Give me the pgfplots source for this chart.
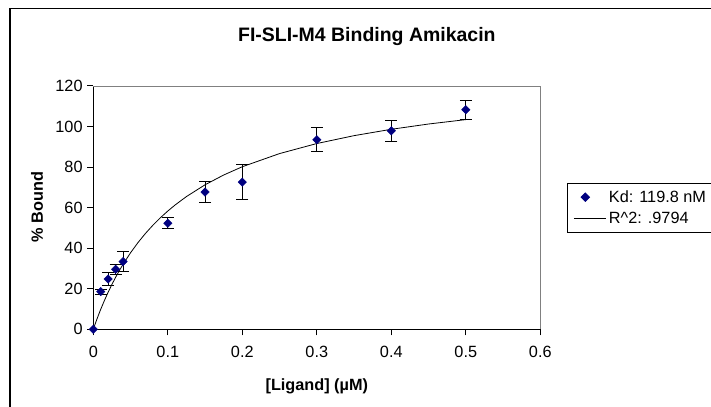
\documentclass[border=0pt]{standalone}
\usepackage{fontspec}
\setmainfont{Liberation Sans}
\usepackage{pgfplots}
\pgfplotsset{compat=1.18}
\usepackage{pgfplotstable}

\definecolor{navymark}{RGB}{0,0,128}
\definecolor{plotgrey}{RGB}{128,128,128}

% measured: mean and error of each point
\pgfplotstableread{
x     y      err
0     0      0
0.01  18.6   1.2
0.02  24.8   3.0
0.03  29.6   2.5
0.04  33.4   4.9
0.10  52.3   2.8
0.15  67.7   5.3
0.20  72.6   8.8
0.30  93.5   5.8
0.40  97.9   5.2
0.50  108.3  4.6
}\bounddata

% one-site binding fit, Kd = 0.1198 uM, sampled
\pgfplotstableread{
x       y
0       0
0.0025  2.62
0.005   5.14
0.0075  7.55
0.01    9.88
0.015   14.27
0.02    18.34
0.025   22.13
0.03    25.67
0.035   28.99
0.04    32.09
0.05    37.75
0.06    42.78
0.07    47.28
0.08    51.33
0.09    55.00
0.10    58.33
0.11    61.37
0.125   65.46
0.15    71.28
0.175   76.10
0.20    80.18
0.25    86.67
0.30    91.62
0.35    95.51
0.40    98.65
0.45    101.25
0.50    103.42
}\fitdata

\newcommand{\lblfont}{\fontsize{12.2}{14}\selectfont}

\begin{document}
\begin{tikzpicture}
\begin{axis}[
    at={(0,0)}, anchor=south west,
    scale only axis,
    width=335.25pt,
    height=182.475pt,
    xmin=0, xmax=0.6,
    ymin=0, ymax=120,
    xtick={0,0.1,0.2,0.3,0.4,0.5,0.6},
    xticklabels={0,0.1,0.2,0.3,0.4,0.5,0.6},
    ytick={0,20,40,60,80,100,120},
    axis lines*=left,
    axis line style={-, black, line width=0.75pt},
    tick align=outside,
    major tick length=4.5pt,
    tick style={black, line width=0.75pt},
    ticklabel style={font=\lblfont},
    xticklabel style={yshift=-4.5pt},
    /pgf/number format/assume math mode=true,
    xlabel={\textbf{[Ligand] (µM)}},
    ylabel={\textbf{\% Bound}},
    xlabel style={font=\lblfont, at={(axis description cs:0.5,-0.2495)}, anchor=base},
    ylabel style={font=\lblfont, at={(axis description cs:-0.126,0.503)}, anchor=center},
    title={\textbf{FI-SLI-M4 Binding Amikacin}},
    every axis title shift=0pt,
    title style={font=\fontsize{14.6}{17}\selectfont, at={(axis description cs:0.612,1.1817)}, anchor=base},
    clip=false,
    legend cell align=left,
    legend style={
        at={(axis description cs:1.0597,0.601)}, anchor=north west,
        draw=black, line width=0.75pt,
        font=\lblfont,
        inner xsep=4.5pt, inner ysep=3pt,
        row sep=2pt,
    },
]
\draw[plotgrey, line width=0.6pt] (rel axis cs:0,1) -- (rel axis cs:1,1) -- (rel axis cs:1,0);

\addplot[
    only marks,
    mark=square*,
    mark size=2.2pt,
    mark options={rotate=45, fill=navymark, draw=navymark},
    error bars/.cd,
        y dir=both, y explicit,
        error bar style={black, line width=0.75pt},
        error mark options={rotate=90, mark size=4.5pt, black, line width=0.75pt},
] table[x=x, y=y, y error=err] {\bounddata};
\addlegendentry{\makebox[95pt][l]{Kd: 119.8 nM}}

\addplot[
    black, line width=0.6pt, no marks,
    legend image code/.code={\draw[black, line width=0.6pt] (0pt,0pt) -- (24pt,0pt);},
] table[x=x, y=y] {\fitdata};
\addlegendentry{\makebox[95pt][l]{R\^{}2: .9794}}
\end{axis}

% outer chart frame (runs off the right and bottom edges)
\draw[black, line width=0.9pt] (-62.475pt,-70pt) -- (-62.475pt,240.75pt) -- (480pt,240.75pt);

\pgfresetboundingbox
\useasboundingbox (-69.975pt,-58.275pt) rectangle (463.275pt,246.975pt);
\end{tikzpicture}
\end{document}
